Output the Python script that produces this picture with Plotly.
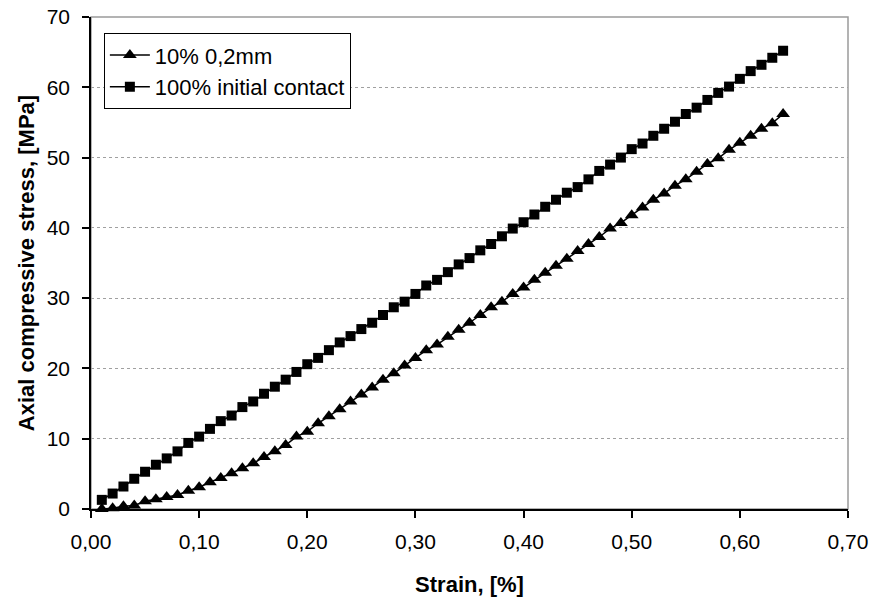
import plotly.graph_objects as go

strain = [round(0.01 * i, 2) for i in range(1, 65)]

stress_10pct = [0.0, 0.1, 0.4, 0.5, 1.1, 1.4, 1.7, 2.0, 2.6, 3.1,
                3.8, 4.4, 5.1, 5.8, 6.5, 7.4, 8.2, 9.1, 10.3, 11.0,
                12.2, 13.2, 14.2, 15.3, 16.3, 17.3, 18.4, 19.3, 20.4, 21.5,
                22.6, 23.4, 24.5, 25.5, 26.5, 27.6, 28.7, 29.5, 30.6, 31.5,
                32.6, 33.6, 34.6, 35.6, 36.7, 37.7, 38.7, 39.9, 40.7, 41.8,
                42.9, 44.0, 44.9, 46.0, 46.9, 48.0, 49.1, 49.9, 51.1, 52.1,
                53.1, 54.1, 54.9, 56.2]

stress_100pct = [1.3, 2.2, 3.2, 4.3, 5.3, 6.3, 7.2, 8.2, 9.4, 10.3,
                 11.4, 12.5, 13.3, 14.5, 15.3, 16.4, 17.4, 18.4, 19.5, 20.6,
                 21.5, 22.6, 23.7, 24.6, 25.6, 26.5, 27.6, 28.7, 29.5, 30.6,
                 31.8, 32.6, 33.7, 34.8, 35.7, 36.8, 37.7, 38.8, 39.9, 40.8,
                 41.9, 43.0, 44.0, 45.0, 45.8, 46.9, 48.1, 49.0, 50.0, 51.2,
                 52.0, 53.1, 54.1, 55.1, 56.2, 57.1, 58.2, 59.2, 60.1, 61.2,
                 62.3, 63.2, 64.2, 65.2]

series_names = ["10% 0,2mm", "100% initial contact"]
x_title = "Strain, [%]"
y_title = "Axial compressive stress, [MPa]"

FONT = "Liberation Sans, Arial, sans-serif"

fig = go.Figure()
fig.add_trace(go.Scatter(
    x=strain, y=stress_10pct, name=series_names[0], mode="lines+markers",
    line=dict(color="black", width=1.5),
    marker=dict(symbol="triangle-up", size=12, color="black"),
    cliponaxis=False,
))
fig.add_trace(go.Scatter(
    x=strain, y=stress_100pct, name=series_names[1], mode="lines+markers",
    line=dict(color="black", width=1.5),
    marker=dict(symbol="square", size=10, color="black"),
    cliponaxis=False,
))

# gray plot-area frame (top/right visible; left/bottom covered by black axes)
fig.add_shape(type="rect", xref="paper", yref="paper", x0=0, x1=1, y0=0, y1=1,
              line=dict(color="#9a9a9a", width=1.5), layer="below")

fig.update_layout(
    width=873, height=601,
    margin=dict(l=91, r=25, t=17, b=92, autoexpand=False),
    paper_bgcolor="white", plot_bgcolor="white",
    font=dict(family=FONT, size=21, color="black"),
    separators=", ",
    showlegend=True,
    legend=dict(
        x=0.017, y=0.967, xanchor="left", yanchor="top",
        bgcolor="white", bordercolor="black", borderwidth=1,
        font=dict(family=FONT, size=22, color="black"),
        tracegroupgap=0, itemwidth=40,
    ),
)

fig.update_xaxes(
    range=[0, 0.7], dtick=0.1, tick0=0, tickformat=".2f",
    automargin=False,
    showgrid=False, zeroline=False,
    showline=True, linecolor="black", linewidth=1.5,
    ticks="outside", ticklen=7, tickcolor="black", tickwidth=1.5,
    ticklabelstandoff=6,
    tickfont=dict(family=FONT, size=21, color="black"),
    title=dict(text="<b>" + x_title + "</b>", font=dict(family=FONT, size=22, color="black"), standoff=25),
)
fig.update_yaxes(
    range=[0, 70], dtick=10, tick0=0,
    automargin=False,
    showgrid=True, gridcolor="#a0a0a0", griddash="dot", gridwidth=1,
    zeroline=False,
    showline=True, linecolor="black", linewidth=1.5,
    ticks="outside", ticklen=7, tickcolor="black", tickwidth=1.5,
    ticklabelstandoff=8,
    tickfont=dict(family=FONT, size=21, color="black"),
    title=dict(text="<b>" + y_title + "</b>", font=dict(family=FONT, size=22, color="black"), standoff=6),
)

fig.write_html("out.html")
